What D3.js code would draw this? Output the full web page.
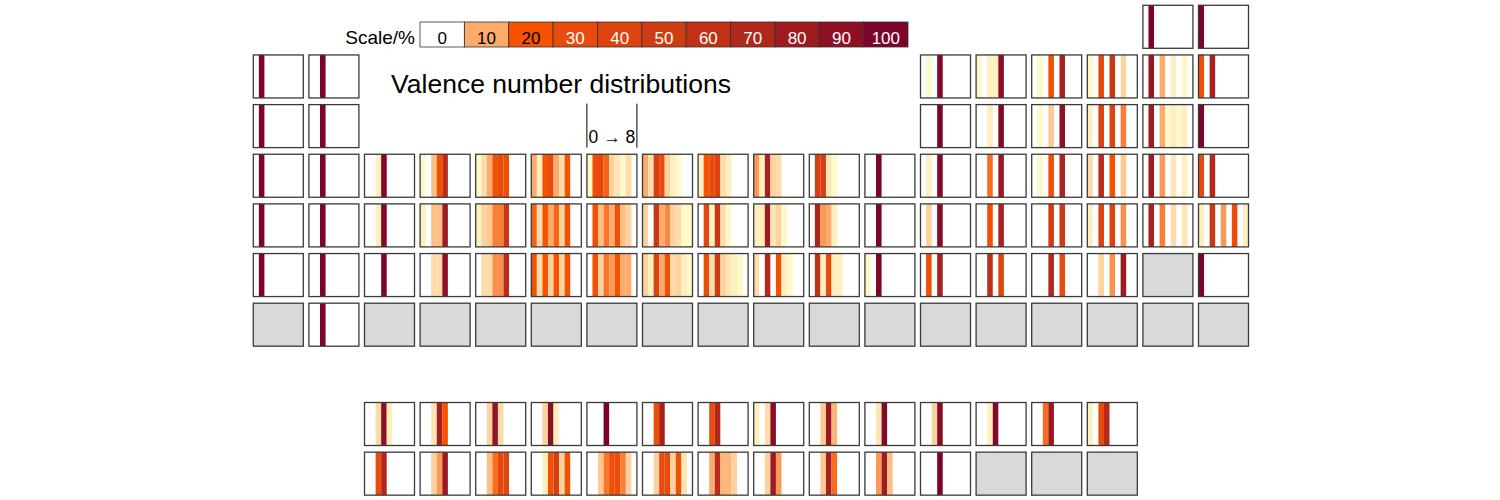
<!DOCTYPE html>
<html>
<head>
<meta charset="utf-8">
<script src="https://cdn.jsdelivr.net/npm/d3@7"></script>
<style>
  body { margin: 0; background: #fff; }
  text { font-family: "Liberation Sans", Arial, Helvetica, sans-serif; }
</style>
</head>
<body>
<div id="chart"></div>
<script>
// valence numbers shown in every cell, left to right
const valenceSteps = [0, 1, 2, 3, 4, 5, 6, 7, 8];
const legendTicks = [0, 10, 20, 30, 40, 50, 60, 70, 80, 90, 100];

// elements by period (f-block written in order, placed in the rows below)
const periods = [
  ["H", "He"],
  ["Li", "Be", "B", "C", "N", "O", "F", "Ne"],
  ["Na", "Mg", "Al", "Si", "P", "S", "Cl", "Ar"],
  ["K", "Ca", "Sc", "Ti", "V", "Cr", "Mn", "Fe", "Co", "Ni", "Cu", "Zn", "Ga", "Ge", "As", "Se", "Br", "Kr"],
  ["Rb", "Sr", "Y", "Zr", "Nb", "Mo", "Tc", "Ru", "Rh", "Pd", "Ag", "Cd", "In", "Sn", "Sb", "Te", "I", "Xe"],
  ["Cs", "Ba", "La", "Ce", "Pr", "Nd", "Pm", "Sm", "Eu", "Gd", "Tb", "Dy", "Ho", "Er", "Tm", "Yb",
   "Lu", "Hf", "Ta", "W", "Re", "Os", "Ir", "Pt", "Au", "Hg", "Tl", "Pb", "Bi", "Po", "At", "Rn"],
  ["Fr", "Ra", "Ac", "Th", "Pa", "U", "Np", "Pu", "Am", "Cm", "Bk", "Cf", "Es", "Fm", "Md", "No",
   "Lr", "Rf", "Db", "Sg", "Bh", "Hs", "Mt", "Ds", "Rg", "Cn", "Nh", "Fl", "Mc", "Lv", "Ts", "Og"]
];

// share (%) of each valence number 0..8; elements not listed have no data
const sBlock = [
  ["H", [0, 100]], ["He", [100]],
  ["Li", [0, 100]], ["Be", [0, 0, 100]],
  ["Na", [0, 100]], ["Mg", [0, 0, 100]],
  ["K", [0, 100]], ["Ca", [0, 0, 100]],
  ["Rb", [0, 100]], ["Sr", [0, 0, 100]],
  ["Cs", [0, 100]], ["Ba", [0, 0, 100]],
  ["Ra", [0, 0, 100]]
];

const pBlock = [
  ["B", [0, 2, 0, 97]], ["C", [2, 0, 3, 3, 92]], ["N", [0, 2, 0, 22, 0, 75]],
  ["O", [2, 0, 35, 0, 55, 0, 6]], ["F", [0, 85, 0, 10, 0, 3, 0, 2]], ["Ne", [25, 0, 75]],
  ["Al", [0, 0, 0, 100]], ["Si", [0, 0, 3, 0, 97]], ["P", [0, 2, 0, 7, 0, 90]],
  ["S", [3, 0, 40, 0, 40, 0, 15]], ["Cl", [0, 80, 0, 10, 2, 3, 2, 3]], ["Ar", [100]],
  ["Ga", [0, 3, 0, 97]], ["Ge", [0, 0, 17, 0, 83]], ["As", [0, 2, 0, 25, 0, 72]],
  ["Se", [5, 0, 65, 0, 22, 0, 7]], ["Br", [0, 80, 0, 12, 0, 4, 0, 3]], ["Kr", [32, 0, 68]],
  ["In", [0, 6, 0, 94]], ["Sn", [0, 0, 25, 0, 75]], ["Sb", [0, 0, 0, 48, 0, 52]],
  ["Te", [3, 0, 40, 0, 42, 0, 13]], ["I", [0, 75, 0, 15, 0, 5, 0, 4]], ["Xe", [3, 0, 55, 0, 12, 0, 28, 0, 3]],
  ["Tl", [0, 25, 0, 75]], ["Pb", [0, 0, 62, 0, 38]], ["Bi", [0, 0, 0, 70, 0, 30]],
  ["Po", [0, 0, 6, 0, 13, 0, 80]], ["Rn", [100]]
];

const dBlock = [
  ["Sc", [0, 0, 3, 97]], ["Ti", [2, 0, 8, 22, 65]], ["V", [2, 5, 10, 25, 30, 25]],
  ["Cr", [10, 3, 20, 30, 10, 5, 20]], ["Mn", [2, 28, 33, 18, 6, 4, 2, 5]], ["Fe", [10, 5, 45, 28, 6, 3, 2]],
  ["Co", [3, 20, 30, 40, 5, 3]], ["Ni", [12, 3, 75, 6, 5]], ["Cu", [0, 45, 47, 4, 2]], ["Zn", [0, 0, 100]],
  ["Y", [0, 0, 3, 97]], ["Zr", [3, 0, 8, 8, 80]], ["Nb", [3, 6, 7, 15, 15, 55]],
  ["Mo", [18, 5, 20, 10, 18, 6, 22]], ["Tc", [0, 25, 8, 16, 10, 25, 8, 6]], ["Ru", [6, 0, 55, 10, 14, 6, 5, 2, 2]],
  ["Rh", [0, 35, 3, 55, 5, 2]], ["Pd", [3, 3, 80, 4, 6, 2]], ["Ag", [0, 72, 12, 10, 3]], ["Cd", [0, 0, 100]],
  ["Lu", [0, 0, 0, 100]], ["Hf", [0, 0, 5, 5, 90]], ["Ta", [0, 5, 5, 13, 13, 64]],
  ["W", [22, 5, 20, 6, 20, 6, 21]], ["Re", [0, 22, 6, 16, 12, 22, 10, 10]], ["Os", [6, 3, 40, 10, 25, 5, 6, 3, 2]],
  ["Ir", [0, 30, 5, 50, 6, 4, 3, 2]], ["Pt", [5, 0, 68, 0, 22, 3, 2]], ["Au", [0, 60, 3, 30, 3, 3]], ["Hg", [2, 0, 98]]
];

const fBlock = [
  ["La", [0, 0, 5, 90, 3]], ["Ce", [0, 0, 4, 76, 20]], ["Pr", [0, 0, 6, 88, 5]], ["Nd", [0, 0, 6, 90, 3]],
  ["Pm", [0, 0, 0, 100]], ["Sm", [0, 0, 25, 75]], ["Eu", [0, 0, 30, 70]], ["Gd", [3, 0, 5, 92]],
  ["Tb", [0, 0, 7, 83, 9]], ["Dy", [0, 0, 4, 96]], ["Ho", [0, 0, 6, 94]], ["Er", [0, 0, 3, 97]],
  ["Tm", [0, 0, 17, 83]], ["Yb", [3, 0, 30, 67]],
  ["Ac", [0, 0, 30, 70]], ["Th", [0, 0, 6, 12, 82]], ["Pa", [0, 0, 8, 17, 35, 38]],
  ["U", [0, 0, 3, 22, 45, 6, 22]], ["Np", [0, 0, 7, 16, 26, 28, 15, 6]], ["Pu", [0, 0, 6, 30, 30, 6, 22, 4]],
  ["Am", [0, 0, 10, 64, 9, 9, 6]], ["Cm", [0, 0, 6, 80, 12]], ["Bk", [0, 0, 7, 75, 17]],
  ["Cf", [0, 0, 12, 78, 8]], ["Es", [0, 0, 0, 100]]
];

const width = 1500,
  height = 500;
const cellW = 50,
  cellH = 43;

const shares = new Map([...sBlock, ...pBlock, ...dBlock, ...fBlock]);

// colour scale, white -> pale yellow -> orange -> dark red
const color = d3
  .scaleLinear()
  .domain([0, 2, 5, 10, 20, 30, 40, 50, 60, 70, 80, 90, 100])
  .range(["#ffffff", "#fff8c8", "#fddcaa", "#fdab6c", "#f65200", "#e94b0c", "#dc430f", "#d03c12",
          "#c23116", "#b0271b", "#9e1b20", "#8e1025", "#7d0429"])
  .interpolate(d3.interpolateRgb)
  .clamp(true);

const x = d3.scaleLinear().domain([1, 18]).range([253.3, 1198.5]);
const y = d3.scaleLinear().domain([1, 7]).range([5.3, 303.2]);
const stripe = d3.scaleBand().domain(valenceSteps).range([0, cellW]);

// place each element in the grid (H sits above the halogens here)
const cells = [];
periods.forEach((list, pi) => {
  const p = pi + 1;
  list.forEach((sym, i) => {
    let g, row = p;
    if (p === 1) g = 17 + i;
    else if (p <= 3) g = i < 2 ? i + 1 : i + 11;
    else if (p <= 5) g = i + 1;
    else if (i < 2) g = i + 1;
    else if (i < 16) { g = i + 1; row = p + 3; }
    else g = i - 13;
    const v = shares.get(sym);
    cells.push({ sym, group: g, row, values: v ? valenceSteps.map((k) => v[k] || 0) : null });
  });
});

const svg = d3.select("#chart").append("svg").attr("width", width).attr("height", height);

const cell = svg
  .selectAll("g.cell")
  .data(cells)
  .join("g")
  .attr("class", "cell")
  .attr("transform", (d) => `translate(${x(d.group)},${y(d.row)})`);

cell
  .append("rect")
  .attr("width", cellW)
  .attr("height", cellH)
  .attr("fill", (d) => (d.values ? "#fff" : "#d9d9d9"));

cell
  .filter((d) => d.values)
  .selectAll("rect.stripe")
  .data((d) => d.values.map((v, k) => ({ k, v })).filter((s) => s.v > 0))
  .join("rect")
  .attr("class", "stripe")
  .attr("x", (s) => stripe(s.k))
  .attr("width", stripe.bandwidth())
  .attr("height", cellH)
  .attr("fill", (s) => color(s.v));

cell
  .append("rect")
  .attr("width", cellW)
  .attr("height", cellH)
  .attr("fill", "none")
  .attr("stroke", "#3a3a3a")
  .attr("stroke-width", 1.3);

// title
svg
  .append("text")
  .attr("x", 561)
  .attr("y", 93)
  .attr("text-anchor", "middle")
  .attr("font-size", 26.5)
  .text("Valence number distributions");

// 0 -> 8 key over one cell
const keyX = x(7),
  keyY = y(3);
svg
  .append("g")
  .selectAll("line")
  .data([0, cellW])
  .join("line")
  .attr("x1", (d) => keyX + d)
  .attr("x2", (d) => keyX + d)
  .attr("y1", keyY - 1)
  .attr("y2", keyY + cellH)
  .attr("stroke", "#000")
  .attr("stroke-width", 1);
svg
  .append("text")
  .attr("x", keyX + cellW / 2)
  .attr("y", keyY + 38)
  .attr("text-anchor", "middle")
  .attr("font-size", 17.5)
  .text("0 \u2192 8");

// legend
const lx = d3.scaleBand().domain(legendTicks).range([420, 908]);
const legend = svg.append("g").attr("transform", "translate(0,22)");
legend
  .append("text")
  .attr("x", 415)
  .attr("y", 22)
  .attr("text-anchor", "end")
  .attr("font-size", 19)
  .text("Scale/%");
legend
  .selectAll("rect")
  .data(legendTicks)
  .join("rect")
  .attr("x", (d) => lx(d))
  .attr("width", lx.bandwidth())
  .attr("height", 25)
  .attr("fill", (d) => color(d))
  .attr("stroke", "#333")
  .attr("stroke-width", 0.8);
legend
  .selectAll("text.tick")
  .data(legendTicks)
  .join("text")
  .attr("class", "tick")
  .attr("x", (d) => lx(d) + lx.bandwidth() / 2)
  .attr("y", 22)
  .attr("text-anchor", "middle")
  .attr("font-size", 17)
  .attr("fill", (d) => (d >= 30 ? "#fff" : "#000"))
  .text((d) => d);
</script>
</body>
</html>
